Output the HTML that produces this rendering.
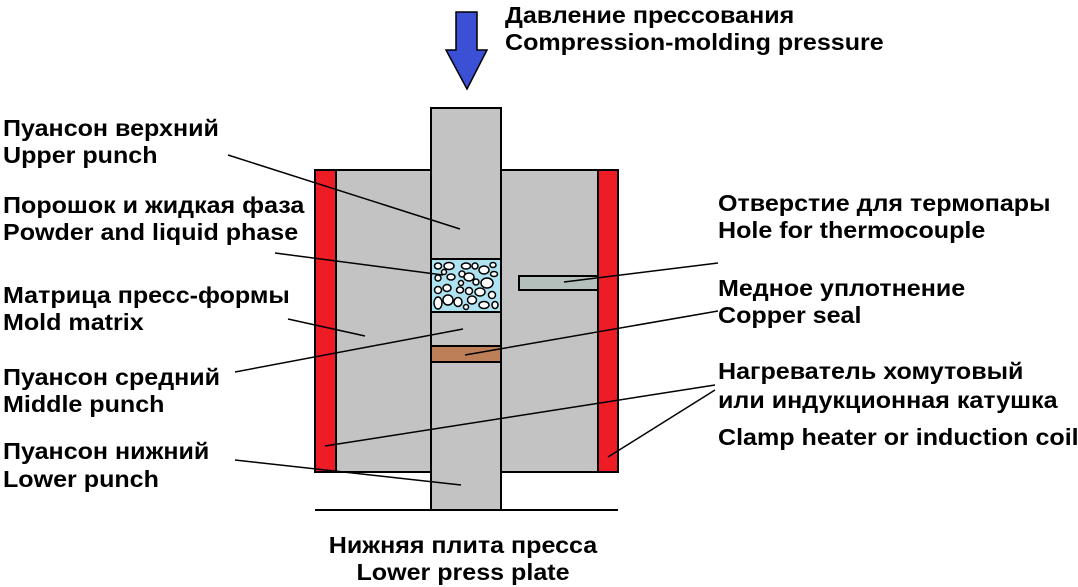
<!DOCTYPE html>
<html><head><meta charset="utf-8"><style>
html,body{margin:0;padding:0;background:#fff;}
svg{display:block;}
text{font-family:"Liberation Sans",Arial,sans-serif;font-weight:bold;font-size:23px;fill:#000;}
</style></head><body>
<svg width="1078" height="587" viewBox="0 0 1078 587" xmlns="http://www.w3.org/2000/svg">
<polygon points="456,12 477,12 477,50 487,50 467,89 446,50 456,50" fill="#3c50d6" stroke="#000" stroke-width="1.5"/>
<rect x="315" y="170" width="303" height="302" fill="#c3c3c3" stroke="#000" stroke-width="2"/>
<rect x="315" y="170" width="21" height="302" fill="#ee1c25" stroke="#000" stroke-width="2"/>
<rect x="598" y="170" width="20" height="302" fill="#ee1c25" stroke="#000" stroke-width="2"/>
<rect x="519" y="276" width="79" height="14" fill="#b4c0bc" stroke="#000" stroke-width="2"/>
<rect x="431" y="108" width="70" height="402" fill="#c3c3c3" stroke="#000" stroke-width="2"/>
<rect x="431" y="259" width="70" height="53" fill="#aee2f0" stroke="#000" stroke-width="2"/>
<rect x="431" y="346" width="70" height="16" fill="#bd7f58" stroke="#000" stroke-width="2"/>
<g fill="#fff" stroke="#000" stroke-width="1.5">
<ellipse cx="438" cy="266" rx="3.5" ry="3"/><ellipse cx="449" cy="266" rx="5" ry="3.5"/><ellipse cx="466" cy="266" rx="4.5" ry="3"/><ellipse cx="475" cy="266" rx="3" ry="3"/><ellipse cx="493" cy="265" rx="3" ry="2.5"/>
<ellipse cx="444" cy="272" rx="2.5" ry="2.5"/><ellipse cx="484" cy="270" rx="5" ry="4"/><ellipse cx="494" cy="274" rx="3.5" ry="2.5"/>
<ellipse cx="438" cy="278" rx="3" ry="3"/><ellipse cx="451" cy="277" rx="4" ry="3"/><ellipse cx="462" cy="274" rx="3" ry="3"/><ellipse cx="469" cy="277" rx="5" ry="4"/><ellipse cx="476" cy="282" rx="3" ry="3"/><ellipse cx="487" cy="283" rx="6" ry="5"/>
<ellipse cx="461" cy="283" rx="2.5" ry="2.5"/><ellipse cx="438" cy="290" rx="3.5" ry="3.5"/><ellipse cx="447" cy="288" rx="4" ry="3.5"/><ellipse cx="460" cy="290" rx="3.5" ry="3"/><ellipse cx="469" cy="291" rx="3.5" ry="3.5"/><ellipse cx="480" cy="292" rx="5" ry="4"/><ellipse cx="492" cy="295" rx="3.5" ry="3.5"/>
<ellipse cx="438" cy="303" rx="4" ry="6"/><ellipse cx="448" cy="300" rx="5" ry="5"/><ellipse cx="458" cy="302" rx="4" ry="4.5"/><ellipse cx="472" cy="300" rx="4.5" ry="4"/><ellipse cx="466" cy="307" rx="2.5" ry="2.5"/><ellipse cx="484" cy="305" rx="5" ry="3.5"/><ellipse cx="495" cy="305" rx="3" ry="3.5"/>
</g>
<line x1="315" y1="510" x2="618" y2="510" stroke="#000" stroke-width="2"/>
<g stroke="#000" stroke-width="1.5">
<line x1="228" y1="155" x2="460" y2="229"/>
<line x1="275" y1="253" x2="443" y2="275"/>
<line x1="288" y1="319" x2="365" y2="336"/>
<line x1="235" y1="372" x2="463" y2="329"/>
<line x1="235" y1="460" x2="461" y2="485"/>
<line x1="715" y1="385" x2="325" y2="446"/>
<line x1="715" y1="390" x2="608" y2="457"/>
<line x1="718" y1="263" x2="564" y2="282"/>
<line x1="718" y1="311" x2="465" y2="355"/>
</g>
<g transform="translate(505 0) scale(1.09 1)">
<text x="0" y="23">Давление прессования</text>
<text x="0" y="50">Compression-molding pressure</text>
</g>
<g transform="translate(3 0) scale(1.09 1)">
<text x="0" y="136">Пуансон верхний</text>
<text x="0" y="163">Upper punch</text>
<text x="0" y="213">Порошок и жидкая фаза</text>
<text x="0" y="240">Powder and liquid phase</text>
<text x="0" y="303">Матрица пресс-формы</text>
<text x="0" y="330">Mold matrix</text>
<text x="0" y="385">Пуансон средний</text>
<text x="0" y="412">Middle punch</text>
<text x="0" y="459">Пуансон нижний</text>
<text x="0" y="487">Lower punch</text>
</g>
<g transform="translate(718 0) scale(1.09 1)">
<text x="0" y="211">Отверстие для термопары</text>
<text x="0" y="238">Hole for thermocouple</text>
<text x="0" y="296">Медное уплотнение</text>
<text x="0" y="323">Copper seal</text>
<text x="0" y="379">Нагреватель хомутовый</text>
<text x="0" y="408">или индукционная катушка</text>
<text x="0" y="445">Clamp heater or induction coil</text>
</g>
<g transform="translate(463 0) scale(1.09 1)">
<text x="0" y="553" text-anchor="middle">Нижняя плита пресса</text>
<text x="0" y="580" text-anchor="middle">Lower press plate</text>
</g>
</svg>
</body></html>
